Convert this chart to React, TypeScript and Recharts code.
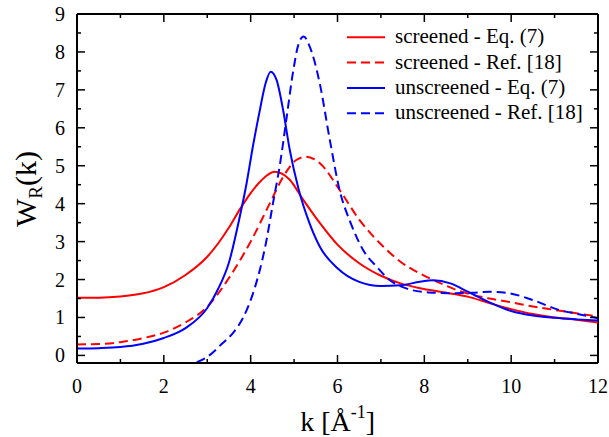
import { LineChart, Line, XAxis, YAxis, ReferenceLine, Legend } from "recharts";

// screened - Eq. (7)
const kScreenedEq = [0, 0.5, 1, 1.5, 2, 2.5, 3, 3.25, 3.5, 3.75, 4, 4.25, 4.55, 4.9, 5.2, 5.6, 6, 6.5, 7, 7.45, 7.9, 8.4, 9, 9.5, 10, 10.5, 11, 11.5, 12];
const wScreenedEq = [1.52, 1.52, 1.55, 1.63, 1.8, 2.12, 2.6, 2.95, 3.37, 3.85, 4.28, 4.62, 4.84, 4.63, 4.12, 3.48, 2.92, 2.43, 2.1, 1.9, 1.77, 1.67, 1.55, 1.38, 1.22, 1.09, 1.0, 0.94, 0.87];

// screened - Ref. [18]
const kScreenedRef = [0, 0.5, 1, 1.5, 2, 2.5, 3, 3.5, 4, 4.45, 4.75, 5.05, 5.28, 5.6, 6.05, 6.5, 7, 7.45, 7.9, 8.3, 8.8, 9.5, 10, 10.5, 11, 11.5, 12];
const wScreenedRef = [0.29, 0.3, 0.35, 0.45, 0.6, 0.87, 1.28, 2.04, 3.0, 4.03, 4.71, 5.15, 5.24, 5.06, 4.36, 3.58, 2.93, 2.47, 2.16, 1.94, 1.7, 1.5, 1.4, 1.29, 1.2, 1.11, 1.03];

// unscreened - Eq. (7)
const kUnscreenedEq = [0, 0.5, 1, 1.5, 2, 2.5, 3, 3.25, 3.5, 3.75, 3.9, 4.05, 4.2, 4.35, 4.46, 4.6, 4.75, 4.9, 5.1, 5.35, 5.6, 6, 6.5, 7, 7.45, 7.9, 8.2, 8.6, 9, 9.5, 10, 10.5, 11, 11.5, 12];
const wUnscreenedEq = [0.18, 0.19, 0.22, 0.3, 0.46, 0.72, 1.25, 1.75, 2.45, 3.66, 4.5, 5.5, 6.4, 7.2, 7.48, 7.25, 6.45, 5.42, 4.4, 3.5, 2.85, 2.3, 1.94, 1.83, 1.85, 1.94, 1.98, 1.9, 1.68, 1.4, 1.17, 1.05, 0.99, 0.95, 0.92];

// unscreened - Ref. [18]
const kUnscreenedRef = [2.76, 3, 3.35, 3.6, 3.85, 4.1, 4.35, 4.52, 4.67, 4.82, 4.98, 5.1, 5.22, 5.36, 5.59, 5.82, 6.05, 6.3, 6.6, 6.9, 7.2, 7.6, 8.1, 8.6, 9.1, 9.5, 9.9, 10.5, 11.1, 11.5, 12];
const wUnscreenedRef = [-0.18, -0.04, 0.32, 0.6, 1.05, 1.8, 2.95, 4.05, 5.0, 6.2, 7.5, 8.2, 8.41, 8.14, 7.18, 5.7, 4.35, 3.5, 2.76, 2.34, 1.99, 1.76, 1.66, 1.64, 1.65, 1.68, 1.65, 1.46, 1.2, 1.1, 0.98];

const xTicks = [0, 1, 2, 3, 4, 5, 6, 7, 8, 9, 10, 11, 12];
const yTicks = [0, 0.5, 1, 1.5, 2, 2.5, 3, 3.5, 4, 4.5, 5, 5.5, 6, 6.5, 7, 7.5, 8, 8.5, 9];

const legendNames = ["screened - Eq. (7)", "screened - Ref. [18]", "unscreened - Eq. (7)", "unscreened - Ref. [18]"];

const RED = "#ff0000";
const BLUE = "#0000ff";
const DASH = "9 5";
const FONT = "Liberation Serif, DejaVu Serif, serif";

const W = 609;
const H = 437;
const TOP = 14;
const RIGHT = 598;

const toRows = (ks: number[], ws: number[]) => ks.map((k, i) => ({ k, w: ws[i] }));

const series = [
  { name: legendNames[0], data: toRows(kScreenedEq, wScreenedEq), color: RED, dash: undefined },
  { name: legendNames[1], data: toRows(kScreenedRef, wScreenedRef), color: RED, dash: DASH },
  { name: legendNames[2], data: toRows(kUnscreenedEq, wUnscreenedEq), color: BLUE, dash: undefined },
  { name: legendNames[3], data: toRows(kUnscreenedRef, wUnscreenedRef), color: BLUE, dash: DASH },
];

const textStyle = { fontFamily: FONT };

function XTick(props: any) {
  const { x, y, payload } = props;
  const v = payload.value;
  const major = v % 2 === 0;
  const len = major ? 8 : 4;
  return (
    <g>
      <line x1={x} x2={x} y1={y} y2={y - len} stroke="#000" strokeWidth={1.5} />
      <line x1={x} x2={x} y1={TOP} y2={TOP + len} stroke="#000" strokeWidth={1.5} />
      {major && (
        <text x={x} y={y + 30} textAnchor="middle" style={textStyle} fontSize={20} fill="#000">
          {v}
        </text>
      )}
    </g>
  );
}

function YTick(props: any) {
  const { x, y, payload } = props;
  const v = payload.value;
  const major = Number.isInteger(v);
  const len = major ? 8 : 4;
  return (
    <g>
      <line x1={x} x2={x + len} y1={y} y2={y} stroke="#000" strokeWidth={1.5} />
      <line x1={RIGHT} x2={RIGHT - len} y1={y} y2={y} stroke="#000" strokeWidth={1.5} />
      {major && (
        <text x={x - 12} y={y + 7} textAnchor="end" style={textStyle} fontSize={20} fill="#000">
          {v}
        </text>
      )}
    </g>
  );
}

function XLabel() {
  return (
    <text x={337.7} y={431} textAnchor="middle" style={textStyle} fontSize={28} fill="#000">
      k [Å
      <tspan dy={-13} fontSize={18}>-1</tspan>
      <tspan dy={13}>]</tspan>
    </text>
  );
}

function YLabel() {
  return (
    <text transform="translate(36,189) rotate(-90)" textAnchor="middle" style={textStyle} fontSize={30} fill="#000">
      W
      <tspan dy={6} fontSize={19}>R</tspan>
      <tspan dy={-6}>(k)</tspan>
    </text>
  );
}

function LegendBox() {
  return (
    <svg width={260} height={110} style={{ display: "block" }}>
      {series.map((s, i) => {
        const cy = 17.3 + i * 25.3;
        return (
          <g key={s.name}>
            <line x1={7} x2={45} y1={cy} y2={cy} stroke={s.color} strokeWidth={2} strokeDasharray={s.dash} />
            <text x={55} y={cy + 6} style={textStyle} fontSize={21} fill="#000">
              {s.name}
            </text>
          </g>
        );
      })}
    </svg>
  );
}

export default function App() {
  return (
    <div style={{ position: "absolute", left: 0, top: 0, width: W, height: H, background: "#fff" }}>
      <LineChart width={W} height={H} margin={{ top: TOP, right: W - RIGHT, left: 0, bottom: 0 }}>
        <XAxis
          dataKey="k"
          type="number"
          domain={[0, 12]}
          ticks={xTicks}
          interval={0}
          allowDataOverflow
          height={74}
          tickLine={false}
          tickSize={0}
          tickMargin={0}
          tick={<XTick />}
          axisLine={{ stroke: "#000", strokeWidth: 2 }}
          label={<XLabel />}
        />
        <YAxis
          type="number"
          domain={[-0.2, 9]}
          ticks={yTicks}
          interval={0}
          allowDataOverflow
          width={77}
          tickLine={false}
          tickSize={0}
          tickMargin={0}
          tick={<YTick />}
          axisLine={{ stroke: "#000", strokeWidth: 2 }}
          label={<YLabel />}
        />
        <ReferenceLine y={9} stroke="#000" strokeWidth={2} />
        <ReferenceLine x={12} stroke="#000" strokeWidth={2} />
        {series.map((s) => (
          <Line
            key={s.name}
            data={s.data}
            dataKey="w"
            name={s.name}
            type="monotone"
            stroke={s.color}
            strokeWidth={2}
            strokeDasharray={s.dash}
            dot={false}
            activeDot={false}
            isAnimationActive={false}
          />
        ))}
        <Legend
          layout="vertical"
          align="center"
          verticalAlign="middle"
          content={<LegendBox />}
          wrapperStyle={{ left: 340, top: 20, width: 260, height: 110 }}
        />
      </LineChart>
    </div>
  );
}
